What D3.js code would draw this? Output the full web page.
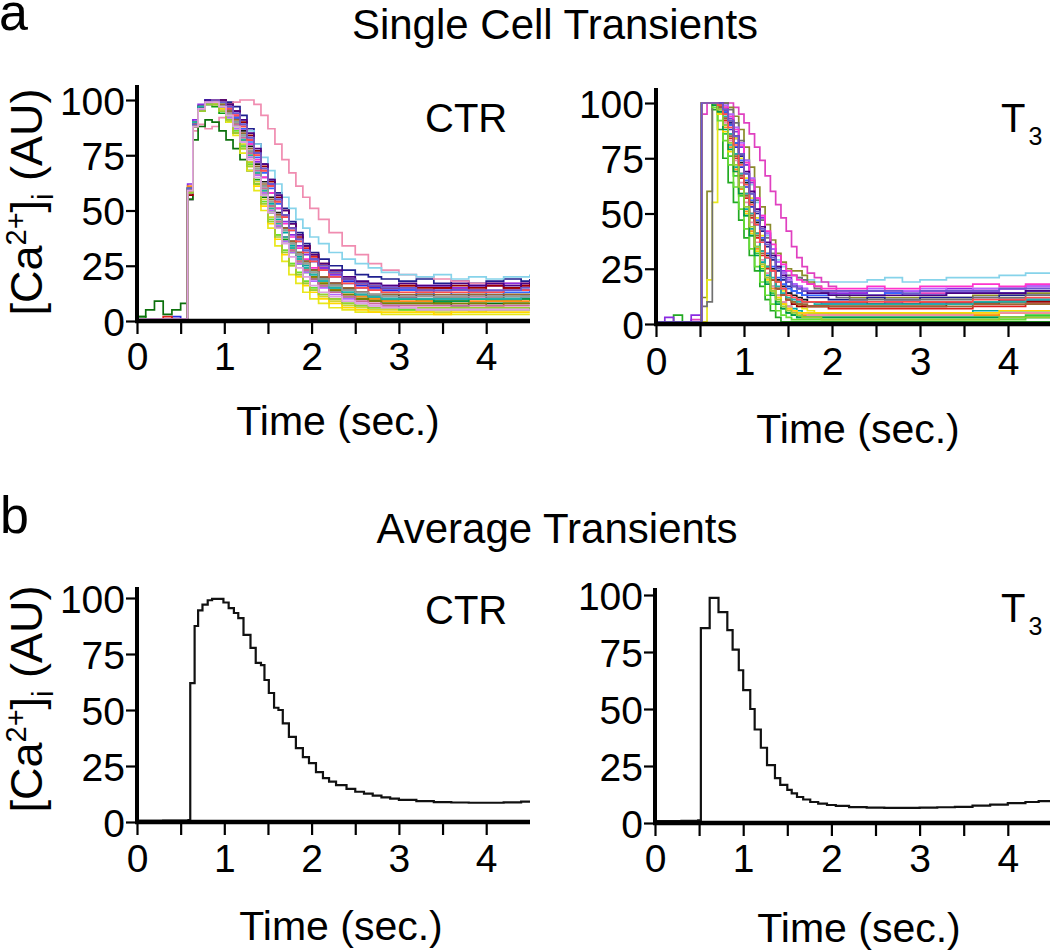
<!DOCTYPE html>
<html><head><meta charset="utf-8">
<script src="https://cdn.jsdelivr.net/npm/d3@7"></script>
<style>
body{margin:0;background:#fff;}
svg{display:block;}
text{white-space:pre;}
</style></head><body>
<svg id="fig" width="1050" height="951"></svg>
<script>
// ---------- DATA ----------
const yTickValues = [0, 25, 50, 75, 100];
const xTickValues = [0, 0.5, 1, 1.5, 2, 2.5, 3, 3.5, 4];

// Single cell transients, CTR (time in s, values in AU)
const timeCtrCells = [0,0.1,0.2,0.3,0.4,0.5, 0.58,0.64,0.7,0.78,0.86,0.94, 1.02,1.1,1.18,1.26,1.34,1.42, 1.5,1.58,1.66,1.74,1.82,1.9, 1.98,2.08,2.2,2.35,2.5,2.65, 2.8,3.0,3.2,3.4,3.6,3.8, 4.0,4.2,4.4,4.5];
const ctrColors = ['#1f1f8f','#2a2ae0','#e0201c','#f08cb0','#86d3ea','#8a2be2','#12a012','#0b700b','#e8e81c','#d4d42e','#ff33cc','#00a8a8','#1a1a1a','#ff8c1a','#66dd33','#3366ff','#990000','#808000','#b266ff','#00994d','#cc6699','#4b0082','#ffd700','#996633','#20b2aa','#9a9a9a','#ff4d4d','#6a5acd','#9acd32','#e0a0e0'];
const ctrCells = [
 [1,1,1,1,1,1, 55,88,96,99,100,100, 99,97,93,87,80,71, 64,58,51,45,40,35, 31,28,25,23,21,20, 19,18,19,17,18,17, 18,19,18,19],
 [1,1,1,1,2,1, 60,90,97,100,100,99, 97,94,89,83,76,69, 62,55,48,42,37,32, 28,24,21,18,16,15, 14,14,13,15,14,13, 13,15,14,14],
 [1,1,1,2,1,1, 58,89,96,99,100,99, 97,93,88,82,75,68, 61,54,48,42,37,33, 29,25,22,19,17,16, 15,16,14,15,15,14, 16,15,16,15],
 [1,1,1,1,1,1, 55,86,89,87,88,92, 96,99,100,100,98,93, 87,80,73,67,61,56, 51,46,40,34,30,26, 23,21,20,19,18,17, 17,17,17,18],
 [1,1,1,1,1,1, 58,88,96,99,100,100, 98,95,91,86,80,74, 68,62,56,51,46,42, 38,35,31,28,26,24, 22,21,20,21,19,20, 19,20,20,21],
 [1,1,1,1,1,1, 62,91,98,100,100,99, 96,92,87,80,72,65, 58,51,45,39,34,30, 27,24,21,19,17,16, 16,15,16,16,15,16, 16,17,16,16],
 [2,1,1,1,1,1, 60,88,95,98,97,94, 90,85,79,72,64,57, 50,43,37,32,27,23, 20,17,14,12,11,10, 9,10,9,8,9,10, 9,9,10,9],
 [2,5,9,3,5,8, 55,82,88,91,90,86, 82,78,73,68,62,56, 49,42,36,31,26,22, 19,16,13,11,10,9, 8,8,8,8,7,8, 8,8,8,8],
 [0,0,0,0,0,0, 58,88,96,99,98,95, 90,84,76,68,59,50, 42,34,27,21,17,13, 10,8,6,5,4,4, 3,3,3,3,3,3, 3,3,3,3],
 [1,1,1,1,1,1, 60,89,96,99,99,97, 93,87,80,72,63,55, 47,39,32,26,21,17, 14,11,9,7,6,5, 5,5,4,4,5,4, 5,5,5,5],
 [1,1,1,1,1,1, 57,88,96,99,100,99, 97,93,87,80,73,65, 58,51,44,38,33,28, 24,20,17,14,12,11, 10,11,10,9,10,11, 10,10,11,11],
 [1,1,1,1,1,1, 60,90,97,100,99,97, 94,89,83,76,68,60, 53,46,40,34,29,25, 21,18,15,13,12,11, 11,10,10,10,10,10, 10,11,11,11],
 [1,1,1,1,1,1, 59,89,96,99,100,99, 96,92,86,79,71,63, 56,49,42,36,31,27, 23,20,17,15,13,12, 12,11,12,11,11,12, 11,12,12,12],
 [1,1,1,1,1,1, 61,90,97,99,99,97, 93,88,82,74,66,58, 51,44,38,32,27,23, 20,17,14,12,11,10, 9,9,9,9,9,9, 9,9,9,9],
 [0,0,0,0,0,0, 58,88,95,98,98,96, 92,86,79,71,62,54, 46,39,32,26,22,18, 15,12,10,8,7,6, 6,5,5,5,5,5, 5,5,5,6],
 [1,1,1,1,1,1, 60,90,97,100,100,99, 96,92,87,81,74,67, 60,53,47,41,36,31, 27,23,20,17,15,14, 13,14,12,13,12,13, 12,13,13,14],
 [1,1,1,1,1,1, 57,88,96,99,100,100, 98,95,90,84,77,70, 63,56,50,44,38,34, 30,26,22,19,17,16, 15,16,15,15,16,15, 16,15,16,17],
 [1,1,1,1,1,1, 60,90,97,99,99,97, 94,89,82,75,67,59, 52,45,38,33,28,24, 20,17,14,12,10,9, 8,8,8,8,8,8, 7,8,8,8],
 [1,1,1,1,1,1, 58,88,95,98,98,96, 92,87,81,74,66,58, 50,43,36,31,26,22, 18,15,12,10,8,7, 7,6,6,6,6,6, 6,6,6,6],
 [1,1,1,1,1,1, 59,89,96,99,99,98, 95,90,84,77,69,61, 54,47,41,35,30,26, 22,19,16,14,12,11, 10,10,10,9,9,10, 10,10,10,10],
 [1,1,1,1,1,1, 60,89,96,99,99,97, 94,89,83,76,68,60, 52,45,38,32,27,23, 19,16,13,11,9,8, 7,7,7,7,7,7, 7,7,7,7],
 [1,1,1,1,1,1, 58,89,97,100,100,100, 98,95,91,85,78,71, 64,57,50,44,39,34, 30,26,23,20,18,17, 16,17,16,16,17,16, 17,16,17,18],
 [0,0,0,0,0,0, 59,89,96,99,98,96, 91,85,78,70,61,52, 44,37,30,25,20,16, 13,10,8,6,5,4, 4,4,4,3,4,4, 4,4,4,4],
 [1,1,1,1,1,1, 60,89,96,99,99,98, 95,91,85,78,70,62, 55,48,42,36,31,27, 23,20,17,15,13,12, 12,12,12,12,12,12, 12,12,12,12],
 [1,1,1,1,1,1, 60,90,97,99,99,97, 93,88,82,75,67,59, 51,44,38,33,28,24, 21,18,15,13,12,11, 10,10,10,10,10,10, 10,10,11,11],
 [1,1,1,1,1,1, 58,88,95,98,99,97, 94,90,84,77,69,61, 54,47,41,35,30,26, 22,19,16,14,13,12, 11,11,11,11,11,11, 11,11,11,11],
 [1,1,1,1,1,1, 59,89,96,99,100,99, 96,93,88,82,75,68, 61,54,47,41,36,31, 27,23,20,17,15,14, 13,13,13,13,13,13, 13,14,14,14],
 [1,1,1,1,1,1, 60,89,96,99,100,99, 97,94,89,83,76,69, 62,55,48,42,37,32, 28,25,22,19,17,16, 15,15,14,14,14,14, 14,14,15,15],
 [0,0,0,0,0,0, 58,88,95,98,98,95, 91,85,78,70,62,53, 45,38,31,25,21,17, 14,12,10,8,7,6, 6,6,6,6,6,6, 6,6,6,6],
 [1,1,1,1,1,1, 59,88,96,99,99,97, 93,88,81,73,65,57, 49,42,35,29,24,20, 16,13,11,9,8,7, 6,6,5,5,5,5, 5,5,5,5]
];

// Single cell transients, T3
const timeT3Cells = [0,0.1,0.2,0.3,0.4,0.52, 0.58,0.64,0.7,0.76,0.82,0.88, 0.94,1.0,1.06,1.12,1.18,1.24, 1.3,1.36,1.42,1.48,1.54,1.6, 1.66,1.72,1.8,1.88,1.96,2.05, 2.2,2.4,2.6,2.8,3.0,3.3, 3.6,3.9,4.2,4.5];
const t3Colors = ['#86d3ea','#e040c0','#8a8a2a','#22aa22','#33cc33','#e0201c','#1f1f8f','#2a2ae0','#8a2be2','#e8e81c','#707070','#00a8a8','#1a1a1a','#ff8c1a','#66dd33','#3366ff','#990000','#b266ff','#f08cb0','#ffd700','#ff33cc','#996633','#00994d','#4b0082','#20b2aa','#9acd32','#ff4d4d','#6a5acd'];
const t3Cells = [
 [1,1,1,1,1,100, 100,100,100,98,94,88, 80,72,63,55,47,40, 34,29,26,24,22,21, 20,20,19,19,19,19, 19,20,21,19,20,21, 21,22,23,24],
 [1,1,1,1,2,95, 100,100,100,100,100,98, 95,91,86,80,74,67, 60,54,48,42,35,30, 26,23,21,19,17,15, 14,15,14,15,14,15, 16,16,17,18],
 [1,1,1,1,1,12, 60,100,100,100,98,94, 88,80,71,62,53,45, 38,32,28,25,24,24, 22,19,17,15,14,13, 12,12,12,12,12,12, 13,13,14,15],
 [1,1,4,1,1,100, 100,97,88,75,64,55, 47,39,31,24,17,11, 6,3,1,1,1,1, 1,1,1,1,1,1, 1,1,1,1,1,1, 1,1,1,2],
 [1,1,1,1,1,100, 100,99,95,86,76,67, 58,49,40,32,25,19, 14,10,7,5,4,3, 3,3,3,3,3,3, 3,3,3,3,3,3, 3,3,4,4],
 [1,1,1,1,1,100, 100,100,98,92,84,75, 66,57,48,39,31,25, 20,16,13,11,10,9, 8,8,8,8,7,7, 7,7,7,7,7,7, 8,8,9,9],
 [1,1,1,1,1,100, 100,100,100,97,91,84, 76,68,59,50,42,35, 29,24,20,17,15,14, 13,12,12,12,11,11, 11,12,11,11,12,12, 12,13,13,14],
 [1,1,1,1,1,100, 100,100,99,95,88,80, 71,62,53,45,37,30, 24,19,16,14,12,11, 10,10,10,9,9,9, 9,9,10,9,9,10, 10,11,11,12],
 [1,3,1,1,4,100, 100,100,100,98,93,87, 80,72,64,56,48,41, 34,28,24,21,18,17, 16,15,15,14,14,14, 14,15,14,15,15,16, 15,16,17,17],
 [0,0,0,0,0,1, 20,55,100,98,92,84, 75,66,57,48,40,32, 25,19,15,12,10,8, 7,6,5,5,4,4, 4,4,4,4,4,4, 4,5,5,5],
 [1,1,1,1,1,8, 10,100,100,100,97,91, 83,74,65,56,47,39, 32,26,23,22,22,21, 20,18,16,14,13,12, 11,11,11,11,11,11, 12,12,13,14],
 [1,1,1,1,1,100, 100,100,97,90,81,71, 61,52,43,35,28,22, 17,13,10,8,7,6, 5,5,5,5,5,5, 5,5,5,5,5,5, 6,6,6,7],
 [1,1,1,1,1,100, 100,100,99,96,90,82, 73,64,55,46,38,31, 25,20,17,14,13,12, 11,10,10,10,10,10, 10,9,9,9,10,10, 10,11,11,12],
 [1,1,1,1,1,100, 100,99,96,89,80,70, 61,51,42,34,27,21, 16,12,9,7,6,5, 4,4,4,4,4,4, 4,4,4,4,4,4, 4,5,5,5],
 [0,0,0,0,0,100, 100,98,92,83,72,62, 52,43,34,26,19,13, 9,6,4,3,2,2, 2,2,2,2,2,2, 2,2,2,2,2,2, 2,2,3,3],
 [1,1,1,1,1,100, 100,100,100,96,90,82, 74,65,56,47,39,32, 26,21,18,16,15,14, 13,13,13,13,13,13, 13,13,14,13,13,14, 14,14,15,15],
 [1,1,1,1,1,100, 100,100,98,93,86,77, 68,59,50,41,33,26, 20,16,13,11,9,8, 8,8,8,8,8,8, 8,8,8,8,8,9, 9,10,10,11],
 [1,1,1,1,1,100, 100,100,100,99,95,89, 82,74,66,57,49,41, 34,28,23,20,18,17, 16,15,15,15,15,15, 15,16,15,15,16,15, 16,16,17,18],
 [1,1,1,1,1,100, 100,100,97,91,83,74, 64,55,46,37,29,23, 17,13,10,8,6,5, 5,4,4,4,4,4, 4,4,4,4,4,4, 5,5,5,6],
 [0,0,0,0,0,100, 100,99,95,87,78,69, 59,50,41,33,26,20, 15,12,9,7,6,5, 5,5,5,5,5,5, 5,5,5,5,5,5, 5,6,6,7],
 [1,1,1,1,1,100, 100,100,100,98,94,88, 81,73,65,57,49,42, 36,31,27,24,22,20, 19,18,17,16,16,16, 16,17,16,16,17,17, 18,17,18,19],
 [1,1,1,1,1,100, 100,100,98,93,85,76, 67,58,49,40,32,26, 20,16,13,11,10,9, 9,8,8,8,8,8, 8,8,8,8,8,8, 9,9,9,10],
 [1,1,1,1,1,100, 100,99,96,88,79,69, 59,49,40,31,24,18, 13,9,7,5,4,3, 3,3,3,3,3,3, 3,3,3,3,3,3, 3,3,3,4],
 [1,1,1,1,1,100, 100,100,100,97,92,85, 77,69,60,52,44,37, 31,26,22,19,17,16, 15,14,14,14,13,13, 13,13,13,13,13,14, 14,14,15,16],
 [1,1,1,1,1,100, 100,100,99,94,86,77, 68,59,50,41,33,26, 21,17,14,12,11,10, 10,10,9,9,9,9, 9,9,9,9,9,9, 10,10,11,11],
 [0,0,0,0,0,100, 100,100,97,90,82,72, 62,53,44,35,27,21, 15,11,8,6,5,4, 3,3,3,2,2,2, 2,2,2,2,2,2, 2,3,3,3],
 [1,1,1,1,1,100, 100,100,99,95,89,81, 72,63,54,45,37,30, 24,19,16,13,12,11, 10,10,10,10,10,10, 10,10,10,10,10,10, 11,11,12,12],
 [1,1,1,1,1,100, 100,100,100,97,92,85, 77,68,59,51,43,36, 30,25,21,19,17,16, 15,15,15,15,15,15, 15,15,15,14,15,15, 15,16,16,17]
];

// Average transients
const timeCtrAvg = [0,0.3,0.59,0.61,0.66,0.70,0.75,0.81,0.86,0.93,0.99,1.05,1.11,1.16,1.22,1.30,1.36,1.42,1.46,1.51,1.57,1.62,1.67,1.74,1.82,1.90,1.97,2.05,2.13,2.2,2.28,2.4,2.5,2.6,2.7,2.8,2.9,3.0,3.2,3.4,3.6,3.8,4.0,4.2,4.4,4.52];
const ctrAvg = [0.5,0.6,0.8,62,87.5,94.5,97,99,99.6,99.6,98,95.5,93.3,91,83.5,77.7,71,70,63.4,57.6,51,50,44,38,33,29,26.3,22.3,19.6,18,16.5,14.8,13.5,12.7,11.8,11,10.4,9.9,9.3,8.9,8.7,8.6,8.6,8.8,9.1,9.4];
const timeT3Avg = [0,0.3,0.49,0.52,0.62,0.72,0.82,0.88,0.95,1.0,1.08,1.13,1.2,1.27,1.36,1.42,1.5,1.55,1.61,1.68,1.76,1.85,1.95,2.05,2.2,2.4,2.6,2.8,3.0,3.2,3.4,3.6,3.8,4.0,4.2,4.35,4.5];
const t3Avg = [0.8,0.9,1.2,85.5,98.7,92.5,84.6,76,67,58.3,50,41,33,25.4,19.7,16.7,14.5,13,11.4,10.3,9.2,8.5,7.9,7.5,7,6.7,6.6,6.6,6.7,6.9,7.1,7.6,8.1,8.7,9.2,9.6,10];

// ---------- DRAWING ----------
const FONT = '"Liberation Sans", Arial, Helvetica, sans-serif';
const svg = d3.select('#fig').attr('font-family', FONT);

function drawPanel(cfg, times, traces, colors, lw) {
  const x = d3.scaleLinear().domain([0, 4.5]).range([cfg.xl, cfg.xl + 4.5 * cfg.pps]);
  const y = d3.scaleLinear().domain([0, 100]).range([cfg.y0, cfg.y100]);
  const g = svg.append('g');
  const clipId = 'clip-' + cfg.id;
  svg.append('clipPath').attr('id', clipId).append('rect')
    .attr('x', cfg.xl).attr('y', cfg.yTop - 4)
    .attr('width', cfg.xEnd - cfg.xl).attr('height', cfg.y0 - cfg.yTop + 4);
  const line = d3.line().x((d, i) => x(times[i])).y(d => y(d)).curve(d3.curveStepAfter);
  g.append('g').attr('clip-path', `url(#${clipId})`)
    .selectAll('path').data(traces).join('path')
    .attr('d', line).attr('fill', 'none')
    .attr('stroke', (d, i) => colors[i]).attr('stroke-width', lw);

  // x axis
  const xa = g.append('g').attr('transform', `translate(0,${cfg.y0})`)
    .call(d3.axisBottom(x).tickValues(xTickValues).tickSize(13)
      .tickFormat(d => Number.isInteger(d) ? String(d) : ''));
  xa.select('.domain').remove();
  xa.selectAll('.tick line').attr('stroke', '#000').attr('stroke-width', 2.2);
  xa.selectAll('.tick text').attr('y', cfg.tickBase - cfg.y0).attr('dy', 0)
    .attr('font-size', 39).attr('font-family', FONT).attr('fill', '#000');
  g.append('line').attr('x1', cfg.xl - 2).attr('x2', cfg.xEnd)
    .attr('y1', cfg.y0).attr('y2', cfg.y0).attr('stroke', '#000').attr('stroke-width', 4.5);

  // y axis
  const ya = g.append('g').attr('transform', `translate(${cfg.xl},0)`)
    .call(d3.axisLeft(y).tickValues(yTickValues).tickSize(11).tickPadding(1));
  ya.select('.domain').remove();
  ya.selectAll('.tick line').attr('stroke', '#000').attr('stroke-width', 2.2);
  ya.selectAll('.tick text').attr('font-size', 39).attr('font-family', FONT)
    .attr('fill', '#000').attr('dy', '0.36em');
  g.append('line').attr('x1', cfg.xl).attr('x2', cfg.xl)
    .attr('y1', cfg.y0 + 2).attr('y2', cfg.yTop).attr('stroke', '#000').attr('stroke-width', 4);

  // x axis title
  svg.append('text').attr('x', cfg.titleX).attr('y', cfg.titleBase)
    .attr('text-anchor', 'middle').attr('font-size', 41).text('Time (sec.)');

  // group label
  if (cfg.label === 'CTR') {
    svg.append('text').attr('x', cfg.labelX).attr('y', cfg.labelY)
      .attr('font-size', 40).text('CTR');
  } else {
    const t = svg.append('text').attr('x', cfg.labelX).attr('y', cfg.labelY).attr('font-size', 40);
    t.append('tspan').text('T');
    t.append('tspan').attr('font-size', 25).attr('dx', 3).attr('dy', 13).text('3');
  }
}

function yTitle(cy) {
  const t = svg.append('text').attr('transform', `translate(42,${cy}) rotate(-90)`)
    .attr('text-anchor', 'middle').attr('font-size', 45);
  t.append('tspan').text('[Ca');
  t.append('tspan').attr('font-size', 29).attr('dy', -16).text('2+');
  t.append('tspan').attr('dy', 16).text(']');
  t.append('tspan').attr('font-size', 29).attr('dy', 11).text('i');
  t.append('tspan').attr('dy', -11).text(' (AU)');
}

drawPanel({id:'a1', xl:137, pps:87.3, xEnd:530, y0:321, y100:100, yTop:85, tickBase:370, titleX:338, titleBase:435, label:'CTR', labelX:425, labelY:132},
  timeCtrCells, ctrCells, ctrColors, 1.7);
drawPanel({id:'a2', xl:656, pps:88, xEnd:1050, y0:324, y100:103, yTop:88, tickBase:375, titleX:858, titleBase:443, label:'T3', labelX:1001, labelY:132},
  timeT3Cells, t3Cells, t3Colors, 1.7);
drawPanel({id:'b1', xl:137, pps:87.3, xEnd:530, y0:822, y100:598, yTop:587, tickBase:872, titleX:341, titleBase:940, label:'CTR', labelX:425, labelY:624},
  timeCtrAvg, [ctrAvg], ['#111'], 2.2);
drawPanel({id:'b2', xl:655, pps:88.2, xEnd:1050, y0:823, y100:595, yTop:588, tickBase:872, titleX:859, titleBase:942, label:'T3', labelX:1001, labelY:622},
  timeT3Avg, [t3Avg], ['#111'], 2.2);

yTitle(202);
yTitle(699);

svg.append('text').attr('x', 555).attr('y', 39).attr('text-anchor', 'middle').attr('font-size', 42).text('Single Cell Transients');
svg.append('text').attr('x', 557).attr('y', 543).attr('text-anchor', 'middle').attr('font-size', 42).text('Average Transients');
svg.append('text').attr('x', -1).attr('y', 30).attr('font-size', 52).text('a');
svg.append('text').attr('x', 0).attr('y', 533).attr('font-size', 52).text('b');
</script>
</body></html>
